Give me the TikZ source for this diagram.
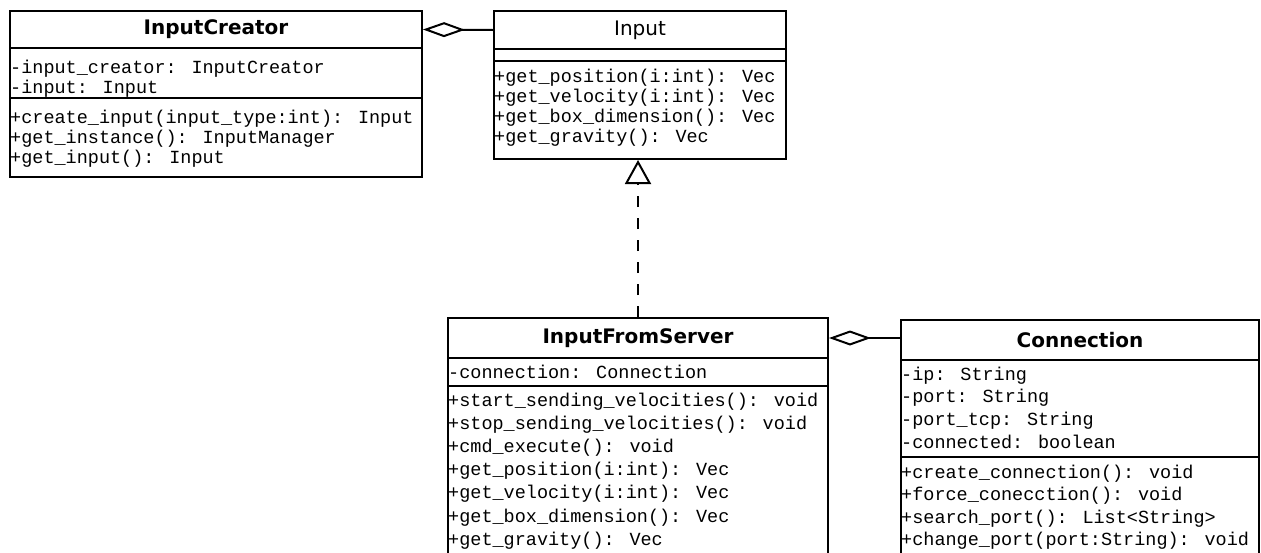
\documentclass[tikz,border=0pt]{standalone}
\usepackage{fontspec}
\setmainfont{DejaVu Sans}
\newfontfamily\codefont{Liberation Mono}
\usetikzlibrary{arrows.meta}

\tikzset{
  frame/.style={draw, line width=2pt, inner sep=0pt, anchor=north west},
  ttl/.style={draw, line width=2pt, inner sep=0pt, anchor=north west,
              font=\fontsize{20}{24}\selectfont\bfseries},
  ttlplain/.style={ttl, font=\fontsize{20}{24}\selectfont},
  sep/.style={line width=2pt},
  row/.style={anchor=base west, inner sep=0pt,
              font=\codefont\fontsize{18.5}{20}\selectfont},
  agg/.style={line width=2pt, {Diamond[open, length=42pt, width=15pt]}-},
  impl/.style={line width=2.5pt, dash pattern=on 11pt off 11pt,
               -{Triangle[open, length=24pt, width=26pt, line width=2pt]}}
}

\begin{document}
\begin{tikzpicture}[x=1pt, y=-1pt]
\path[use as bounding box, clip] (0,0) rectangle (1261,552);
\fill[white] (0,0) rectangle (1261,552);

% ---- InputCreator
\node[frame, minimum width=412pt, minimum height=166pt] (ic) at (9,10) {};
\node[ttl, minimum width=412pt, minimum height=37pt] (ic-t) at (9,10) {InputCreator};
\draw[sep] (ic.west |- 0,98) -- (ic.east |- 0,98);
\node[row] (ic-a1) at (10,73) {-input\_creator: InputCreator};
\node[row] (ic-a2) at (10,93) {-input: Input};
\node[row] (ic-m1) at (10,123) {+create\_input(input\_type:int): Input};
\node[row] (ic-m2) at (10,143) {+get\_instance(): InputManager};
\node[row] (ic-m3) at (10,163) {+get\_input(): Input};

% ---- Input
\node[frame, minimum width=292pt, minimum height=148pt] (inp) at (493,10) {};
\node[ttlplain, minimum width=292pt, minimum height=38pt] (inp-t) at (493,10) {Input};
\draw[sep] (inp.west |- 0,61) -- (inp.east |- 0,61);
\node[row] (inp-m1) at (494,82) {+get\_position(i:int): Vec};
\node[row] (inp-m2) at (494,102) {+get\_velocity(i:int): Vec};
\node[row] (inp-m3) at (494,122) {+get\_box\_dimension(): Vec};
\node[row] (inp-m4) at (494,142) {+get\_gravity(): Vec};

% ---- InputFromServer
\node[frame, minimum width=380pt, minimum height=250pt] (ifs) at (447,317) {};
\node[ttl, minimum width=380pt, minimum height=40pt] (ifs-t) at (447,317) {InputFromServer};
\draw[sep] (ifs.west |- 0,386) -- (ifs.east |- 0,386);
\node[row] (ifs-a1) at (448,378) {-connection: Connection};
\node[row] (ifs-m1) at (448,406) {+start\_sending\_velocities(): void};
\node[row] (ifs-m2) at (448,429.2) {+stop\_sending\_velocities(): void};
\node[row] (ifs-m3) at (448,452.4) {+cmd\_execute(): void};
\node[row] (ifs-m4) at (448,475.6) {+get\_position(i:int): Vec};
\node[row] (ifs-m5) at (448,498.8) {+get\_velocity(i:int): Vec};
\node[row] (ifs-m6) at (448,522) {+get\_box\_dimension(): Vec};
\node[row] (ifs-m7) at (448,545.2) {+get\_gravity(): Vec};

% ---- Connection
\node[frame, minimum width=358pt, minimum height=250pt] (conn) at (900,319) {};
\node[ttl, minimum width=358pt, minimum height=40pt] (conn-t) at (900,319) {Connection};
\draw[sep] (conn.west |- 0,457) -- (conn.east |- 0,457);
\node[row] (conn-a1) at (901,380) {-ip: String};
\node[row] (conn-a2) at (901,402.7) {-port: String};
\node[row] (conn-a3) at (901,425.4) {-port\_tcp: String};
\node[row] (conn-a4) at (901,448.1) {-connected: boolean};
\node[row] (conn-m1) at (901,478) {+create\_connection(): void};
\node[row] (conn-m2) at (901,500.5) {+force\_conecction(): void};
\node[row] (conn-m3) at (901,523) {+search\_port(): List<String>};
\node[row] (conn-m4) at (901,545.5) {+change\_port(port:String): void};

% ---- relations
\draw[agg] (ic-t.east) -- (inp-t.west);
\draw[agg] (ifs-t.east) -- (ifs-t.east -| conn-t.west);
\draw[impl] (ifs-t.north) -- (ifs-t.north |- inp.south);
\end{tikzpicture}
\end{document}
